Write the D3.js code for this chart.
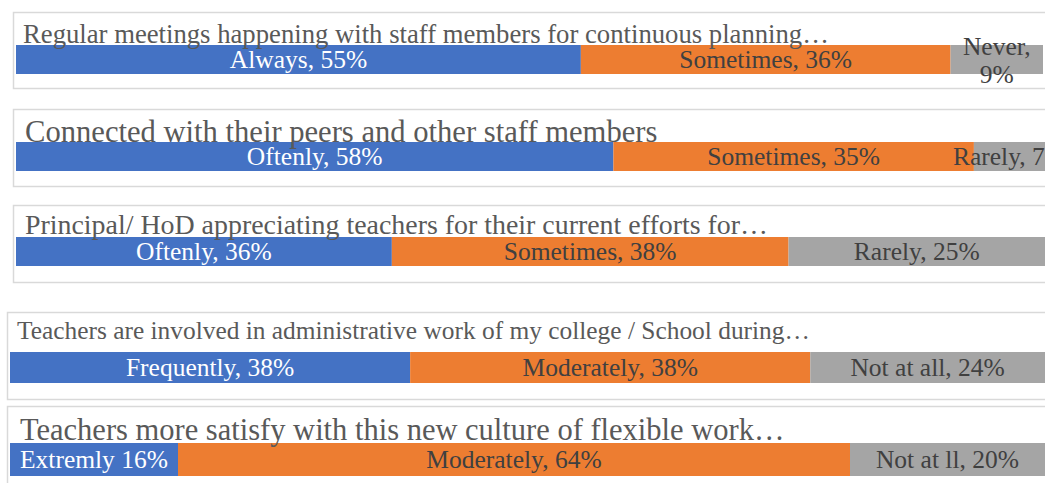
<!DOCTYPE html>
<html>
<head>
<meta charset="utf-8">
<script src="https://cdn.jsdelivr.net/npm/d3@7/dist/d3.min.js"></script>
<style>
  html, body { margin: 0; padding: 0; background: #fff; overflow: hidden; }
  svg { display: block; }
</style>
</head>
<body>
<script>
// survey questions (one stacked bar each)
const titles = [
  "Regular meetings happening with staff members for continuous planning\u2026",
  "Connected with their peers and other staff members",
  "Principal/ HoD appreciating teachers for their current efforts for\u2026",
  "Teachers are involved in administrative work of my college / School during\u2026",
  "Teachers more satisfy with this new culture of flexible work\u2026"
];

// answer shares, %
const values = [
  [55, 36, 9],
  [58, 35, 7],
  [36, 38, 25],
  [38, 38, 24],
  [16, 64, 20]
];

// data labels as printed on the segments
const segmentLabels = [
  ["Always, 55%", "Sometimes, 36%", "Never, 9%"],
  ["Oftenly, 58%", "Sometimes, 35%", "Rarely, 7%"],
  ["Oftenly, 36%", "Sometimes, 38%", "Rarely, 25%"],
  ["Frequently, 38%", "Moderately, 38%", "Not at all, 24%"],
  ["Extremly 16%", "Moderately, 64%", "Not at ll, 20%"]
];

const colors = ["#4472C4", "#ED7D31", "#A5A5A5"];
const labelColors = ["#ffffff", "#404040", "#404040"];
const fontFamily = "Liberation Serif";

// panel geometry (each one is its own little chart)
const layout = [
  { box: [13, 12, 1100, 76],  barY: 45,  barH: 29, x0: 16, w: 1027, titleX: 23, titleY: 43,  titleSize: 26.7, wrapLast: true },
  { box: [13, 109, 1100, 77], barY: 142, barH: 29, x0: 16, w: 1030, titleX: 25, titleY: 142, titleSize: 30.6, wrapLast: false },
  { box: [13, 205, 1100, 77], barY: 237, barH: 29, x0: 16, w: 1044, titleX: 25, titleY: 234, titleSize: 27.9, wrapLast: false },
  { box: [7, 312, 1100, 87],  barY: 352, barH: 31, x0: 10, w: 1053, titleX: 17, titleY: 339, titleSize: 25.4, wrapLast: false },
  { box: [7, 406, 1100, 120], barY: 443, barH: 33, x0: 10, w: 1050, titleX: 20, titleY: 440, titleSize: 30.5, wrapLast: false }
];

const width = 1045;
const height = 483;
const labelSize = 25.5;

const svg = d3.select("body")
  .append("svg")
  .attr("width", width)
  .attr("height", height);

titles.forEach((title, p) => {
  const L = layout[p];
  const g = svg.append("g");

  // panel frame
  g.append("rect")
    .attr("x", L.box[0] + 0.5)
    .attr("y", L.box[1] + 0.5)
    .attr("width", L.box[2])
    .attr("height", L.box[3])
    .attr("fill", "#fff")
    .attr("stroke", "#D9D9D9")
    .attr("stroke-width", 1.5);

  const x = d3.scaleLinear()
    .domain([0, 100])
    .range([L.x0, L.x0 + L.w]);

  // stack the segments
  const segs = [];
  let acc = 0;
  values[p].forEach((v, i) => {
    segs.push({ start: acc, end: acc + v, i: i, label: segmentLabels[p][i] });
    acc += v;
  });

  g.selectAll("rect.seg")
    .data(segs)
    .enter()
    .append("rect")
      .attr("class", "seg")
      .attr("x", d => x(d.start))
      .attr("y", L.barY)
      .attr("width", d => x(d.end) - x(d.start))
      .attr("height", L.barH)
      .attr("fill", d => colors[d.i]);

  // title drawn over the bar top, like the original
  g.append("text")
    .attr("x", L.titleX)
    .attr("y", L.titleY)
    .attr("fill", "#595959")
    .attr("font-family", fontFamily)
    .attr("font-size", L.titleSize)
    .text(title);

  const cy = L.barY + L.barH / 2;
  segs.forEach(d => {
    const cx = (x(d.start) + Math.min(x(d.end), width)) / 2;
    const t = g.append("text")
      .attr("x", cx)
      .attr("text-anchor", "middle")
      .attr("fill", labelColors[d.i])
      .attr("font-family", fontFamily)
      .attr("font-size", labelSize);
    if (L.wrapLast && d.i === 2) {
      const parts = d.label.split(" ");
      t.attr("y", cy - 13);
      parts.forEach((s, k) => {
        t.append("tspan")
          .attr("x", cx)
          .attr("dy", k === 0 ? "0.35em" : "1.08em")
          .text(s);
      });
    } else {
      t.attr("y", cy).attr("dy", "0.35em").text(d.label);
    }
  });
});
</script>
</body>
</html>
